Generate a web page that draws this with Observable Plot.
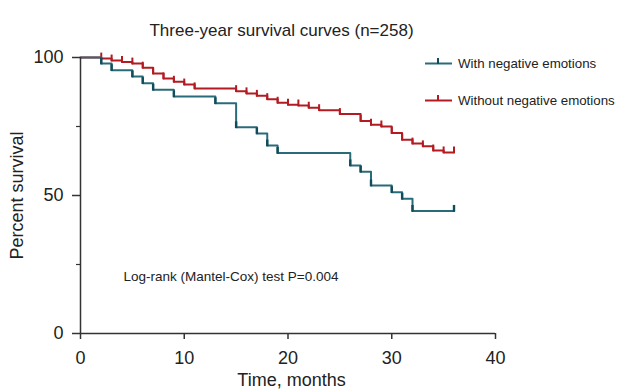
<!DOCTYPE html>
<html>
<head>
<meta charset="utf-8">
<script src="https://cdn.jsdelivr.net/npm/d3@7"></script>
<script src="https://cdn.jsdelivr.net/npm/@observablehq/plot@0.6"></script>
<style>
  body { margin: 0; background: #fff; font-family: "Liberation Sans", Arial, Helvetica, sans-serif; }
  #wrap { position: relative; width: 617px; height: 392px; }
  #legend { position: absolute; left: 0; top: 0; width: 617px; height: 392px; pointer-events: none; }
  .item { position: absolute; left: 424px; display: flex; align-items: center; font-size: 13.3px; color: #222; white-space: nowrap; }
  .item svg { margin-right: 6px; }
</style>
</head>
<body>
<div id="wrap"></div>
<script>
// Time axis ticks and survival tick labels
const xTicks = [0, 10, 20, 30, 40];
const yTicks = [0, 50, 100];
const yMinorTicks = [25, 75];

// Group: With negative emotions (step times, months; percent survival)
const withTimes = [0, 2, 3, 5, 6, 7, 9, 13, 15, 17, 18, 19, 26, 27, 28, 30, 31, 32, 36];
const withSurv  = [100, 97.8, 95.4, 93.1, 90.7, 88.3, 85.9, 83.4, 74.7, 72.5, 68.1, 65.4, 60.9, 58.6, 53.6, 51.2, 48.8, 44.4, 44.4];

// Group: Without negative emotions
const withoutTimes = [0, 2, 3, 4, 5, 6, 7, 8, 9, 10, 11, 15, 16, 17, 18, 19, 20, 21, 22, 23, 25, 27, 28, 29, 30, 31, 32, 33, 34, 35, 36];
const withoutSurv  = [100, 99.6, 98.9, 98.4, 97.8, 96.3, 94.2, 92.4, 91.2, 90.2, 88.8, 87.8, 87.0, 86.1, 84.9, 83.6, 82.9, 82.6, 81.8, 80.9, 79.5, 77.0, 75.6, 75.0, 72.6, 70.2, 68.8, 67.8, 66.3, 65.6, 65.6];

const seriesNames = ["With negative emotions", "Without negative emotions"];
const titleText = "Three-year survival curves (n=258)";
const xLabel = "Time, months";
const yLabel = "Percent survival";
const noteText = "Log-rank (Mantel-Cox) test P=0.004";

const colWith = "#2a6b79";
const colWithTick = "#114c5b";
const colWithout = "#b31b22";

const withData = withTimes.map((t, i) => ({t, s: withSurv[i]}));
const withoutData = withoutTimes.map((t, i) => ({t, s: withoutSurv[i]}));

// upward censor tick symbol
const censor = { draw(ctx, size) { ctx.moveTo(0, 0.8); ctx.lineTo(0, -6); } };

const chart = Plot.plot({
  width: 617,
  height: 392,
  marginTop: 57,
  marginBottom: 59,
  marginLeft: 80,
  marginRight: 122,
  style: { fontFamily: "'Liberation Sans', Arial, Helvetica, sans-serif", color: "#222", background: "#fff" },
  x: { domain: [0, 40] },
  y: { domain: [0, 100] },
  marks: [
    Plot.line(withoutData, { x: "t", y: "s", curve: "step-after", stroke: colWithout, strokeWidth: 2 }),
    Plot.dot(withoutData.slice(1), { x: "t", y: "s", symbol: censor, stroke: colWithout, strokeWidth: 2, fill: "none", r: 3 }),
    Plot.line(withData, { x: "t", y: "s", curve: "step-after", stroke: colWith, strokeWidth: 2 }),
    Plot.dot(withData.slice(1), { x: "t", y: "s", symbol: censor, stroke: colWithTick, strokeWidth: 2.4, fill: "none", r: 3 }),
    Plot.ruleX([0], { stroke: "#333", strokeWidth: 1.5 }),
    Plot.ruleY([0], { stroke: "#333", strokeWidth: 1.5 }),
    Plot.axisY({ ticks: yTicks, tickSize: 8, tickPadding: 9, fontSize: 18, label: null, stroke: "#333", strokeWidth: 1.5, color: "#222" }),
    Plot.axisY({ ticks: yMinorTicks, tickSize: 4, tickFormat: () => "", label: null, stroke: "#333", strokeWidth: 1.2 }),
    Plot.axisX({ ticks: xTicks, tickSize: 6, tickPadding: 12, fontSize: 18, label: null, stroke: "#333", strokeWidth: 1.5, color: "#222" }),
    Plot.text([titleText], { frameAnchor: "top", dx: -6.5, dy: -34, fontSize: 17, fill: "#222" }),
    Plot.text([yLabel], { frameAnchor: "left", textAnchor: "middle", rotate: -90, dx: -63, fontSize: 18, fill: "#222" }),
    Plot.text([xLabel], { frameAnchor: "bottom", dx: 3.5, dy: 52, fontSize: 18, fill: "#222" }),
    Plot.text([noteText], { frameAnchor: "bottom-left", textAnchor: "start", dx: 43, dy: -53, fontSize: 13.5, fill: "#222" })
  ]
});

const wrap = document.getElementById("wrap");
wrap.appendChild(chart);

// Legend overlay
const legend = document.createElement("div");
legend.id = "legend";
const legendItems = [
  { name: seriesNames[0], color: colWith, tick: colWithTick, top: 55 },
  { name: seriesNames[1], color: colWithout, tick: colWithout, top: 92 }
];
for (const it of legendItems) {
  const d = document.createElement("div");
  d.className = "item";
  d.style.top = it.top + "px";
  d.innerHTML = `<svg width="28" height="16"><line x1="1" y1="8.5" x2="28" y2="8.5" stroke="${it.color}" stroke-width="2"/><line x1="14" y1="9" x2="14" y2="3" stroke="${it.tick}" stroke-width="2"/></svg><span>${it.name}</span>`;
  legend.appendChild(d);
}
wrap.appendChild(legend);
</script>
</body>
</html>
